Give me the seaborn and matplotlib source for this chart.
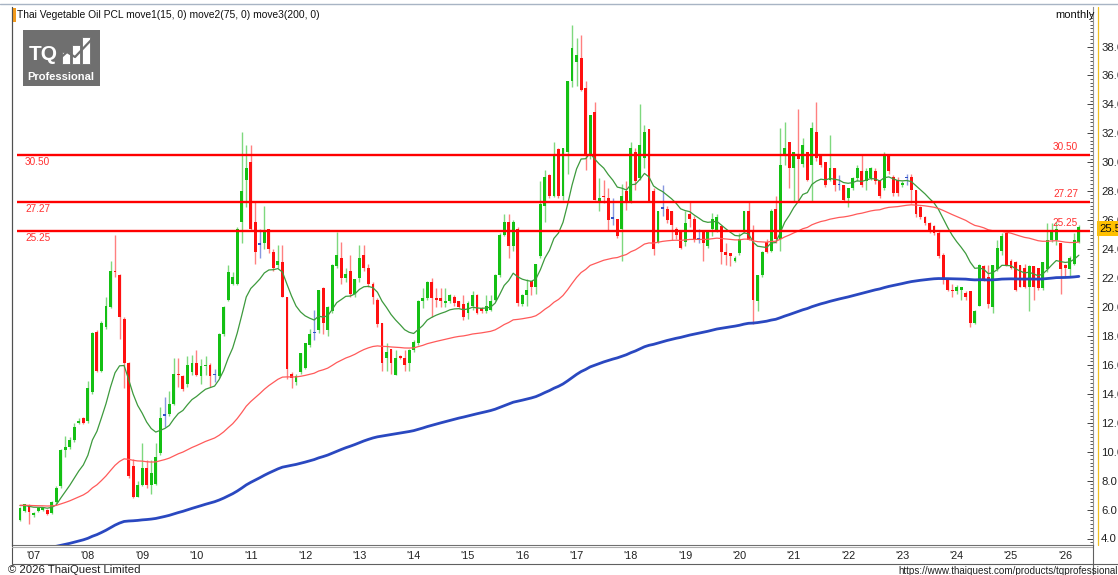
import matplotlib
matplotlib.use('Agg')
import matplotlib.pyplot as plt
from matplotlib.patches import Rectangle
from matplotlib.lines import Line2D
import numpy as np
import pandas as pd
import seaborn as sns

sns.set_style('white')
plt.rcParams['font.family'] = ['Liberation Sans', 'DejaVu Sans']

# monthly bars, Oct 2006 .. Mar 2026
opens = [5.3, 5.9, 6.3, 5.6, 5.9, 5.95, 6.0, 5.75, 6.5, 7.6,
         10.1, 10.3, 10.8, 12.0, 12.3, 12.1, 14.1, 18.3, 15.6, 18.6,
         20.0, 22.5, 22.2, 19.2, 16.1, 9.0, 6.9, 7.7, 8.9, 7.7,
         7.8, 9.9, 12.5, 12.6, 13.3, 15.4, 15.2, 14.7, 15.5, 16.1,
         15.2, 15.9, 16.0, 15.3, 15.2, 18.1, 20.5, 21.6, 21.6, 25.9,
         28.8, 30.0, 25.9, 24.3, 24.4, 25.4, 23.8, 22.9, 23.1, 20.7,
         15.4, 14.8, 15.5, 15.8, 17.4, 18.2, 18.4, 21.3, 18.4, 19.7,
         22.8, 23.4, 22.0, 22.5, 20.9, 22.0, 23.6, 22.7, 21.6, 20.5,
         18.9, 16.5, 17.1, 15.3, 16.6, 16.5, 16.1, 17.0, 17.5, 20.4,
         20.6, 21.75, 20.6, 20.6, 20.3, 20.4, 20.7, 20.4, 20.2, 19.6,
         20.1, 20.8, 19.9, 19.7, 19.8, 20.5, 22.2, 25.0, 25.9, 24.2,
         25.4, 20.2, 20.8, 21.8, 21.4, 23.5, 27.0, 29.1, 27.7, 30.9,
         27.7, 30.7, 35.6, 36.9, 37.2, 35.1, 30.4, 33.5, 27.3, 27.7,
         27.5, 26.1, 26.1, 25.4, 28.0, 27.3, 30.7, 28.9, 30.3, 32.3,
         28.0, 24.5, 26.8, 26.8, 26.6, 25.4, 25.2, 24.5, 26.4, 26.1,
         24.7, 25.2, 24.2, 25.4, 25.3, 25.6, 23.8, 23.7, 23.2, 23.7,
         25.2, 26.6, 25.2, 20.4, 22.2, 24.5, 23.9, 26.8, 24.7, 30.5,
         31.4, 29.6, 30.5, 29.9, 30.7, 29.8, 32.1, 30.5, 30.0, 28.8,
         29.6, 28.4, 28.4, 27.5, 28.2, 28.9, 29.4, 28.7, 28.9, 29.4,
         28.8, 28.2, 30.5, 29.0, 28.8, 28.4, 28.9, 29.0, 28.1, 26.9,
         26.2, 25.8, 25.6, 25.1, 23.6, 21.9, 21.2, 21.1, 21.2, 21.0,
         21.1, 18.9, 20.1, 22.8, 22.1, 20.0, 22.6, 23.9, 25.1, 23.2,
         23.1, 22.9, 22.7, 21.4, 22.8, 22.7, 21.3, 22.6, 24.6, 24.6,
         24.4, 22.9, 22.6, 23.0, 24.5]
highs = [6.2, 6.4, 6.4, 5.8, 6.2, 6.2, 6.05, 6.6, 7.6, 10.2,
         11.1, 11.0, 12.0, 12.3, 12.4, 14.9, 18.3, 18.4, 19.0, 20.7,
         23.2, 25.0, 22.3, 19.3, 16.2, 9.5, 8.0, 10.6, 9.4, 9.4,
         10.6, 13.1, 13.8, 14.2, 16.5, 16.5, 15.3, 16.6, 16.7, 17.0,
         16.4, 16.6, 16.1, 15.7, 18.2, 20.1, 22.9, 22.4, 25.5, 32.1,
         31.2, 31.2, 27.3, 25.4, 27.0, 25.4, 24.0, 24.3, 24.3, 20.7,
         15.5, 15.4, 16.8, 17.5, 18.5, 19.8, 21.2, 21.4, 20.1, 23.0,
         25.2, 24.5, 22.7, 23.6, 21.9, 24.3, 24.3, 23.0, 21.7, 20.6,
         18.9, 17.5, 17.1, 17.0, 16.7, 17.0, 17.1, 17.7, 20.5, 21.3,
         21.8, 22.0, 21.3, 21.3, 21.3, 20.9, 20.8, 20.4, 20.8, 20.4,
         21.1, 20.9, 20.0, 20.8, 20.8, 22.3, 25.1, 26.4, 26.4, 26.0,
         25.5, 20.9, 21.9, 21.8, 23.0, 28.7, 29.5, 29.2, 31.4, 31.0,
         31.0, 35.6, 39.5, 38.6, 38.8, 35.6, 33.3, 34.2, 28.9, 28.8,
         28.2, 27.5, 26.1, 28.5, 28.7, 31.4, 31.0, 34.0, 32.6, 32.3,
         28.2, 26.6, 28.4, 27.0, 26.6, 25.5, 25.3, 26.6, 27.3, 26.3,
         25.4, 25.3, 25.3, 26.5, 26.4, 25.6, 24.4, 23.7, 23.5, 25.1,
         26.6, 27.3, 25.7, 22.2, 23.9, 24.7, 26.8, 27.7, 32.4, 32.8,
         31.4, 30.7, 33.7, 31.7, 30.7, 32.8, 34.2, 30.5, 30.0, 31.9,
         29.6, 29.1, 28.4, 28.2, 29.0, 29.8, 30.5, 29.6, 29.7, 29.6,
         28.8, 30.7, 30.5, 29.1, 29.0, 28.7, 29.2, 29.2, 28.1, 27.0,
         26.3, 25.9, 25.7, 25.3, 23.7, 22.0, 21.6, 21.5, 21.4, 21.1,
         21.1, 19.8, 23.0, 22.9, 22.9, 22.9, 24.6, 25.1, 25.1, 23.3,
         23.2, 22.9, 23.0, 22.9, 22.8, 22.7, 23.1, 25.8, 25.8, 25.9,
         24.4, 23.0, 23.5, 25.1, 25.7]
lows = [5.2, 5.8, 5.0, 5.5, 5.8, 5.9, 5.6, 5.7, 6.4, 7.5,
        9.6, 10.2, 10.7, 11.9, 11.9, 12.0, 14.0, 15.5, 15.5, 18.5,
        19.9, 22.1, 17.8, 14.4, 8.2, 6.8, 6.9, 7.6, 7.5, 7.1,
        7.7, 9.8, 11.7, 12.5, 13.2, 14.5, 14.2, 14.5, 15.3, 15.2,
        14.7, 15.3, 14.5, 14.8, 15.1, 18.0, 20.4, 21.5, 21.5, 24.4,
        26.9, 25.3, 23.0, 23.4, 24.0, 23.7, 22.5, 22.7, 20.7, 15.0,
        14.4, 14.6, 15.4, 15.7, 17.2, 17.7, 18.2, 18.1, 18.0, 19.6,
        22.7, 21.6, 21.7, 20.7, 20.7, 21.7, 22.5, 21.4, 20.2, 18.6,
        15.6, 15.6, 15.4, 15.3, 16.4, 15.6, 15.6, 16.9, 17.4, 19.9,
        20.5, 19.3, 20.0, 20.0, 20.0, 20.3, 20.1, 19.9, 19.1, 19.2,
        19.8, 19.5, 19.6, 19.6, 19.7, 20.4, 22.1, 24.9, 23.4, 23.9,
        20.1, 20.1, 20.1, 20.8, 20.9, 23.4, 25.9, 27.5, 27.6, 27.5,
        27.4, 29.2, 35.2, 35.3, 34.9, 29.5, 30.2, 27.4, 26.6, 27.2,
        25.3, 25.7, 24.8, 23.2, 26.7, 27.2, 28.1, 28.8, 29.6, 27.3,
        23.6, 24.4, 26.3, 25.8, 24.6, 24.7, 24.0, 24.2, 25.5, 24.5,
        24.4, 23.2, 24.1, 24.9, 25.2, 23.0, 22.9, 22.8, 23.1, 23.6,
        25.1, 24.6, 18.8, 19.7, 22.1, 23.7, 23.8, 24.4, 23.9, 29.8,
        28.2, 27.3, 27.3, 29.7, 28.7, 27.3, 30.1, 29.7, 28.3, 28.7,
        28.0, 28.1, 27.3, 26.9, 28.1, 28.7, 28.3, 28.1, 28.8, 28.5,
        27.5, 28.1, 29.2, 27.7, 27.7, 28.3, 28.4, 27.2, 26.2, 26.1,
        25.7, 25.1, 25.0, 23.4, 21.6, 21.1, 20.7, 20.9, 20.5, 20.5,
        18.6, 18.8, 20.1, 21.8, 19.9, 19.6, 22.5, 23.6, 22.8, 22.6,
        21.1, 21.4, 21.3, 19.7, 20.5, 21.2, 21.2, 22.4, 24.5, 24.3,
        20.9, 22.1, 22.1, 22.9, 24.4]
closes = [6.1, 6.35, 5.8, 5.75, 6.1, 6.1, 5.7, 6.55, 7.5, 10.1,
          10.3, 10.8, 11.7, 12.1, 12.0, 14.4, 18.2, 15.6, 18.9, 20.1,
          22.5, 22.4, 19.3, 16.1, 8.3, 6.9, 7.7, 8.9, 7.7, 8.5,
          9.65, 12.3, 12.5, 13.3, 15.4, 15.3, 14.3, 16.0, 16.1, 15.3,
          15.9, 16.0, 15.2, 15.3, 18.1, 20.0, 22.4, 22.1, 25.4, 28.0,
          29.6, 25.4, 23.8, 24.3, 25.3, 24.0, 22.7, 23.2, 20.7, 15.7,
          15.1, 15.2, 16.8, 17.5, 18.1, 18.2, 21.2, 18.9, 20.0, 22.9,
          23.6, 22.0, 22.3, 20.9, 21.9, 23.4, 22.7, 21.6, 20.7, 18.8,
          16.1, 16.9, 16.1, 16.45, 16.5, 16.0, 17.0, 17.6, 20.4, 20.6,
          21.75, 20.6, 20.5, 20.4, 20.4, 20.8, 20.3, 20.0, 19.3, 20.25,
          20.8, 19.6, 19.7, 20.1, 20.4, 22.2, 25.0, 25.9, 24.2, 25.9,
          20.3, 20.8, 21.2, 21.4, 23.0, 27.1, 29.0, 27.7, 30.5, 27.7,
          31.0, 35.6, 37.9, 37.4, 35.0, 30.4, 33.3, 27.4, 27.5, 27.6,
          26.0, 26.1, 24.9, 27.7, 27.2, 31.0, 28.7, 31.2, 32.1, 27.3,
          24.0, 26.6, 26.8, 26.0, 25.7, 25.0, 24.1, 25.8, 26.1, 24.7,
          24.7, 24.4, 25.3, 26.1, 26.2, 23.8, 23.6, 23.5, 23.4, 24.7,
          26.6, 24.6, 20.5, 22.2, 23.8, 23.8, 26.6, 24.7, 29.8, 31.0,
          29.6, 30.7, 30.2, 31.2, 28.8, 32.4, 30.3, 29.8, 28.4, 29.6,
          28.4, 28.4, 27.4, 28.2, 28.9, 29.6, 28.4, 29.4, 29.6, 28.7,
          27.7, 30.5, 29.4, 27.9, 27.9, 28.6, 28.9, 28.1, 26.4, 26.2,
          25.8, 25.2, 25.1, 23.5, 21.9, 21.2, 21.1, 21.4, 21.4, 20.7,
          18.9, 19.7, 22.9, 21.9, 20.2, 22.9, 24.1, 24.9, 22.8, 22.7,
          21.2, 21.4, 21.4, 22.8, 21.4, 21.3, 23.1, 24.6, 25.2, 25.4,
          22.6, 22.7, 23.4, 24.6, 25.5]

ma_periods = [15, 75, 200]
ma_start = [6.3, 6.3, 3.2]          # level of each average just before the first bar
ma_colors = ['#3d9a3d', '#ff5a5a', '#2a48c0']
ma_widths = [0.9, 0.9, 2.0]

levels = [30.50, 27.27, 25.25]
year_labels = ["'07", "'08", "'09", "'10", "'11", "'12", "'13", "'14", "'15", "'16",
               "'17", "'18", "'19", "'20", "'21", "'22", "'23", "'24", "'25", "'26"]
first_jan_bar = 3
last_price = 25.5
title = 'Thai Vegetable Oil PCL move1(15, 0) move2(75, 0) move3(200, 0)'

W, H = 1118, 575
fig = plt.figure(figsize=(W / 100, H / 100), dpi=100)
fig.patch.set_facecolor('white')

def fx(px):
    return px / W

def fy(py):
    return 1 - py / H

# bar i sits at pixel 20 + 4.525*i ; price v at pixel 538.5 - 14.47*(v-4)
ax = fig.add_axes([fx(12), fy(545), fx(1093) - fx(12), fy(7) - fy(545)])
ax.set_xlim((12 - 20) / 4.525, (1093 - 20) / 4.525)
ax.set_ylim(4 + (538.5 - 545) / 14.47, 4 + (538.5 - 7) / 14.47)

df = pd.DataFrame({'open': opens, 'high': highs, 'low': lows, 'close': closes})
df['bar'] = np.arange(len(df))

body_col = np.where(df['close'] > df['open'], '#14c014',
                    np.where(df['close'] < df['open'], '#ff1010', '#3050c8'))
wick_col = np.where(df['close'] > df['open'], '#7ed87e',
                    np.where(df['close'] < df['open'], '#ff8080', '#8898e0'))

ax.vlines(df['bar'], df['low'], df['high'], colors=wick_col, lw=1.0, zorder=2)
body_h = np.maximum((df['close'] - df['open']).abs(), 0.09)
body_b = np.minimum(df['open'], df['close'])
ax.bar(df['bar'], body_h, bottom=body_b, width=0.64, color=body_col, linewidth=0, zorder=3)

# moving averages (exponential) of the closes
for p, s, c, w in zip(ma_periods, ma_start, ma_colors, ma_widths):
    m = pd.Series([s] + closes).ewm(span=p, adjust=False).mean().iloc[1:].to_numpy()
    sns.lineplot(x=df['bar'], y=m, color=c, lw=w, ax=ax, zorder=4, legend=False)

# support / resistance lines
ax.hlines(levels, -0.6, 236.5, color='#ff0000', lw=1.7, zorder=5)
for lv in levels:
    ax.text(1.1, lv - 0.5, f'{lv:.2f}', color='#ff3030', fontsize=7.2, va='center', ha='left')
    ax.text(233.8, lv + 0.55, f'{lv:.2f}', color='#ff3030', fontsize=7.2, va='center', ha='right')

# axes styling
ax.spines['top'].set_visible(False)
ax.spines['left'].set_color('#505050')
ax.spines['right'].set_color('#909090')
ax.spines['bottom'].set_color('#707070')
for sp in ax.spines.values():
    sp.set_linewidth(0.8)

ax.yaxis.tick_right()
ax.set_yticks(np.arange(4, 39, 2))
ax.set_yticklabels([f'{v:.1f}' for v in np.arange(4, 39, 2)], fontsize=8.2, color='#202020')
ax.set_yticks(np.arange(3.75, 40.5, 0.25), minor=True)
ax.tick_params(axis='y', which='major', direction='in', length=4, width=0.7, color='#404040', pad=5.8)
ax.tick_params(axis='y', which='minor', direction='in', length=2.5, width=0.6, color='#404040')

ax.set_xticks([first_jan_bar + 12 * k for k in range(len(year_labels))])
ax.set_xticklabels(year_labels, fontsize=7.8, color='#202020')
ax.tick_params(axis='x', which='major', direction='out', length=3, width=0.7, color='#606060', pad=1.5)
ax.set_xlabel('')
ax.set_ylabel('')

# frame lines and furniture
def fline(x0, y0, x1, y1, color, lw=0.8):
    fig.add_artist(Line2D([fx(x0), fx(x1)], [fy(y0), fy(y1)], color=color, lw=lw))

fline(0, 4, W, 4, '#a8b4c4', 1.0)
fline(12, 7, 12, 564, '#505050', 0.8)
fline(12, 547, 1093, 547, '#b0b0b0', 0.8)
fline(12, 564, W, 564, '#606060', 0.8)
fline(1093, 545, 1093, 575, '#606060', 0.8)
fline(1098, 7, 1098, 545, '#f0c020', 0.9)

fig.add_artist(Rectangle((fx(12), fy(22)), fx(4), fy(8) - fy(22), color='#f29a1c', lw=0))

# current price tag
fig.add_artist(Rectangle((fx(1097), fy(236)), fx(W - 1097), fy(221) - fy(236), color='#ffc000', lw=0))
fig.text(fx(1099), fy(228.5), f'{last_price:.1f}', fontsize=8.2, va='center', ha='left', color='#101010')

renderer = fig.canvas.get_renderer()

def fit(t, width_px):
    w = t.get_window_extent(renderer).width
    t.set_fontsize(t.get_fontsize() * width_px / w)

t = fig.text(fx(17), fy(15), title, fontsize=8, va='center', ha='left', color='#101010')
fit(t, 305)
t = fig.text(fx(1095), fy(15), 'monthly', fontsize=8, va='center', ha='right', color='#101010')
fit(t, 40)
t = fig.text(fx(8), fy(570), '\u00a9 2026 ThaiQuest Limited', fontsize=8, va='center', ha='left', color='#202020')
fit(t, 133)
t = fig.text(fx(898), fy(571), 'https://www.thaiquest.com/products/tqprofessiona', fontsize=8,
             va='center', ha='left', color='#202020')
fit(t, 219)
t.set_text('https://www.thaiquest.com/products/tqprofessional')

# logo
fig.add_artist(Rectangle((fx(23), fy(86)), fx(77), fy(30) - fy(86), color='#6f6f6f', lw=0))
fig.text(fx(29), fy(55), 'TQ', fontsize=15, fontweight='bold', color='white', va='center', ha='left')
for x0, top in [(62, 52), (72, 45), (82, 37)]:
    fig.add_artist(Rectangle((fx(x0), fy(64)), fx(8), fy(top) - fy(64), facecolor='white',
                             edgecolor='#6f6f6f', lw=0.6))
fig.add_artist(Line2D([fx(57), fx(67), fx(75), fx(94)], [fy(61), fy(52), fy(57), fy(37)],
                      color='#6f6f6f', lw=1.6))
t = fig.text(fx(61), fy(77), 'Professional', fontsize=7.5, fontweight='bold', color='white',
             va='center', ha='center')
fit(t, 67)

fig.savefig('out.png', dpi=100, facecolor='white')
